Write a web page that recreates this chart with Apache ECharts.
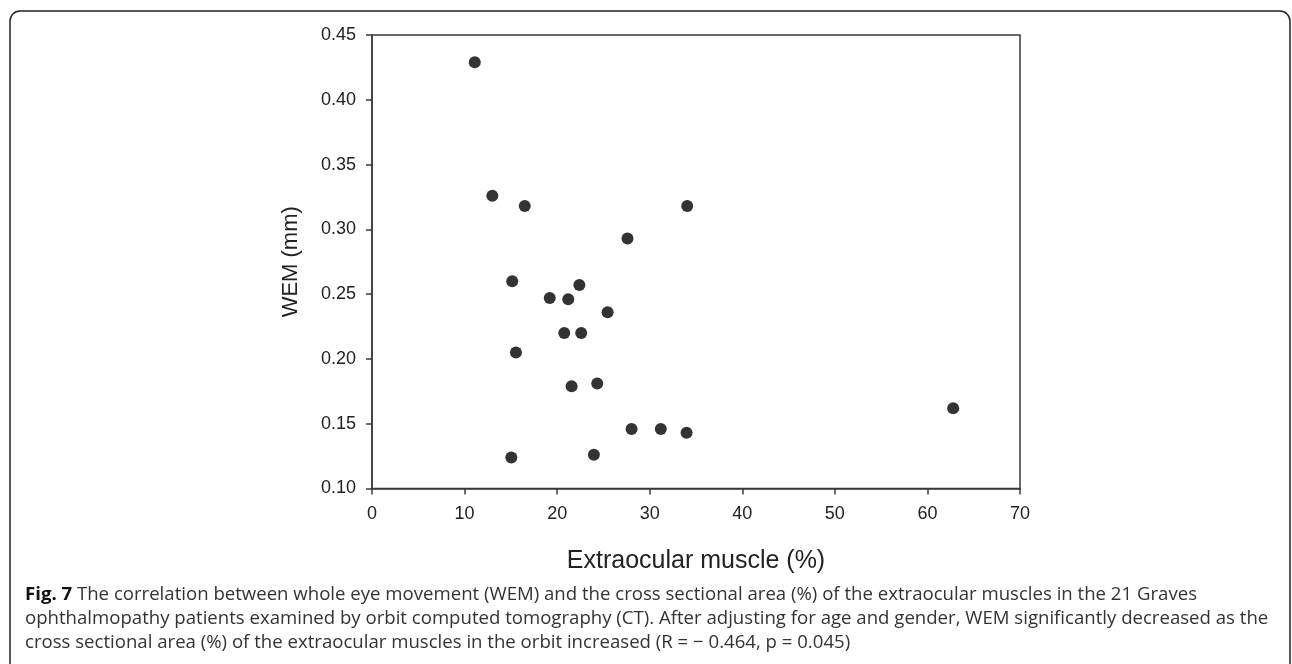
<!DOCTYPE html>
<html>
<head>
<meta charset="utf-8">
<script src="https://cdn.jsdelivr.net/npm/echarts@6/dist/echarts.min.js"></script>
<style>html,body{margin:0;padding:0;background:#fff}#c{width:1292px;height:664px}</style>
</head>
<body>
<div id="c"></div>
<script>
const muscle = [11.1, 13.0, 16.5, 34.05, 27.6, 15.15, 22.4, 19.2, 21.2, 25.45, 20.77, 22.6, 15.55, 21.56, 24.33, 28.04, 31.2, 33.98, 15.05, 23.97, 62.78];
const wem = [0.429, 0.326, 0.318, 0.318, 0.293, 0.260, 0.257, 0.247, 0.246, 0.236, 0.220, 0.220, 0.205, 0.179, 0.181, 0.146, 0.146, 0.143, 0.124, 0.126, 0.162];
const xTitle = 'Extraocular muscle (%)';
const yTitle = 'WEM (mm)';
const captionBold = 'Fig. 7';
const captionLines = [
  ' The correlation between whole eye movement (WEM) and the cross sectional area (%) of the extraocular muscles in the 21 Graves',
  'ophthalmopathy patients examined by orbit computed tomography (CT). After adjusting for age and gender, WEM significantly decreased as the',
  'cross sectional area (%) of the extraocular muscles in the orbit increased (R = \u2212 0.464, p = 0.045)'
];

const chart = echarts.init(document.getElementById('c'), null, {renderer: 'canvas'});
const axisColor = '#3a3a3a';
const font = 'Liberation Sans, Arial, sans-serif';
const capFont = '"Open Sans", "Noto Sans", sans-serif';
const capSize = 18.6;

chart.setOption({
  animation: false,
  backgroundColor: '#fff',
  grid: {left: 372, right: 272, top: 35, bottom: 175.5, show: true, borderColor: axisColor, borderWidth: 1.5, backgroundColor: 'transparent'},
  xAxis: {
    type: 'value', min: 0, max: 70, interval: 10,
    name: xTitle, nameLocation: 'middle', nameGap: 60,
    nameTextStyle: {fontFamily: font, fontSize: 25, color: '#222'},
    axisLine: {show: true, lineStyle: {color: axisColor, width: 1.5}},
    axisTick: {show: true, inside: false, length: 6, lineStyle: {color: axisColor, width: 1.5}},
    axisLabel: {margin: 17, fontFamily: font, fontSize: 18, color: '#222'},
    splitLine: {show: false}
  },
  yAxis: {
    type: 'value', min: 0.10, max: 0.45, interval: 0.05,
    name: yTitle, nameLocation: 'middle', nameGap: 70, nameRotate: 90,
    nameTextStyle: {fontFamily: font, fontSize: 22, color: '#222'},
    axisLine: {show: true, lineStyle: {color: axisColor, width: 1.5}},
    axisTick: {show: true, inside: false, length: 6, lineStyle: {color: axisColor, width: 1.5}},
    axisLabel: {margin: 16, fontFamily: font, fontSize: 18, color: '#222', formatter: v => v.toFixed(2)},
    splitLine: {show: false}
  },
  series: [{
    type: 'scatter',
    symbol: 'circle',
    symbolSize: 12,
    itemStyle: {color: '#000'},
    data: muscle.map((m, i) => [m, wem[i]])
  }],
  graphic: [
    {type: 'rect', shape: {x: 10, y: 11, width: 1280, height: 670, r: 10}, style: {fill: 'none', stroke: '#222', lineWidth: 1.5}, silent: true},
    {type: 'text', left: 25, top: 585, style: {
      text: '{b|' + captionBold + '}{n|' + captionLines[0] + '}',
      rich: {b: {fontFamily: capFont, fontWeight: 'bold', fontSize: capSize, fill: '#111'}, n: {fontFamily: capFont, fontSize: capSize, fill: '#333'}}
    }},
    {type: 'text', left: 25, top: 609, style: {text: captionLines[1], fontFamily: capFont, fontSize: capSize, fill: '#333'}},
    {type: 'text', left: 25, top: 633, style: {text: captionLines[2], fontFamily: capFont, fontSize: capSize, fill: '#333'}}
  ]
});
</script>
</body>
</html>
